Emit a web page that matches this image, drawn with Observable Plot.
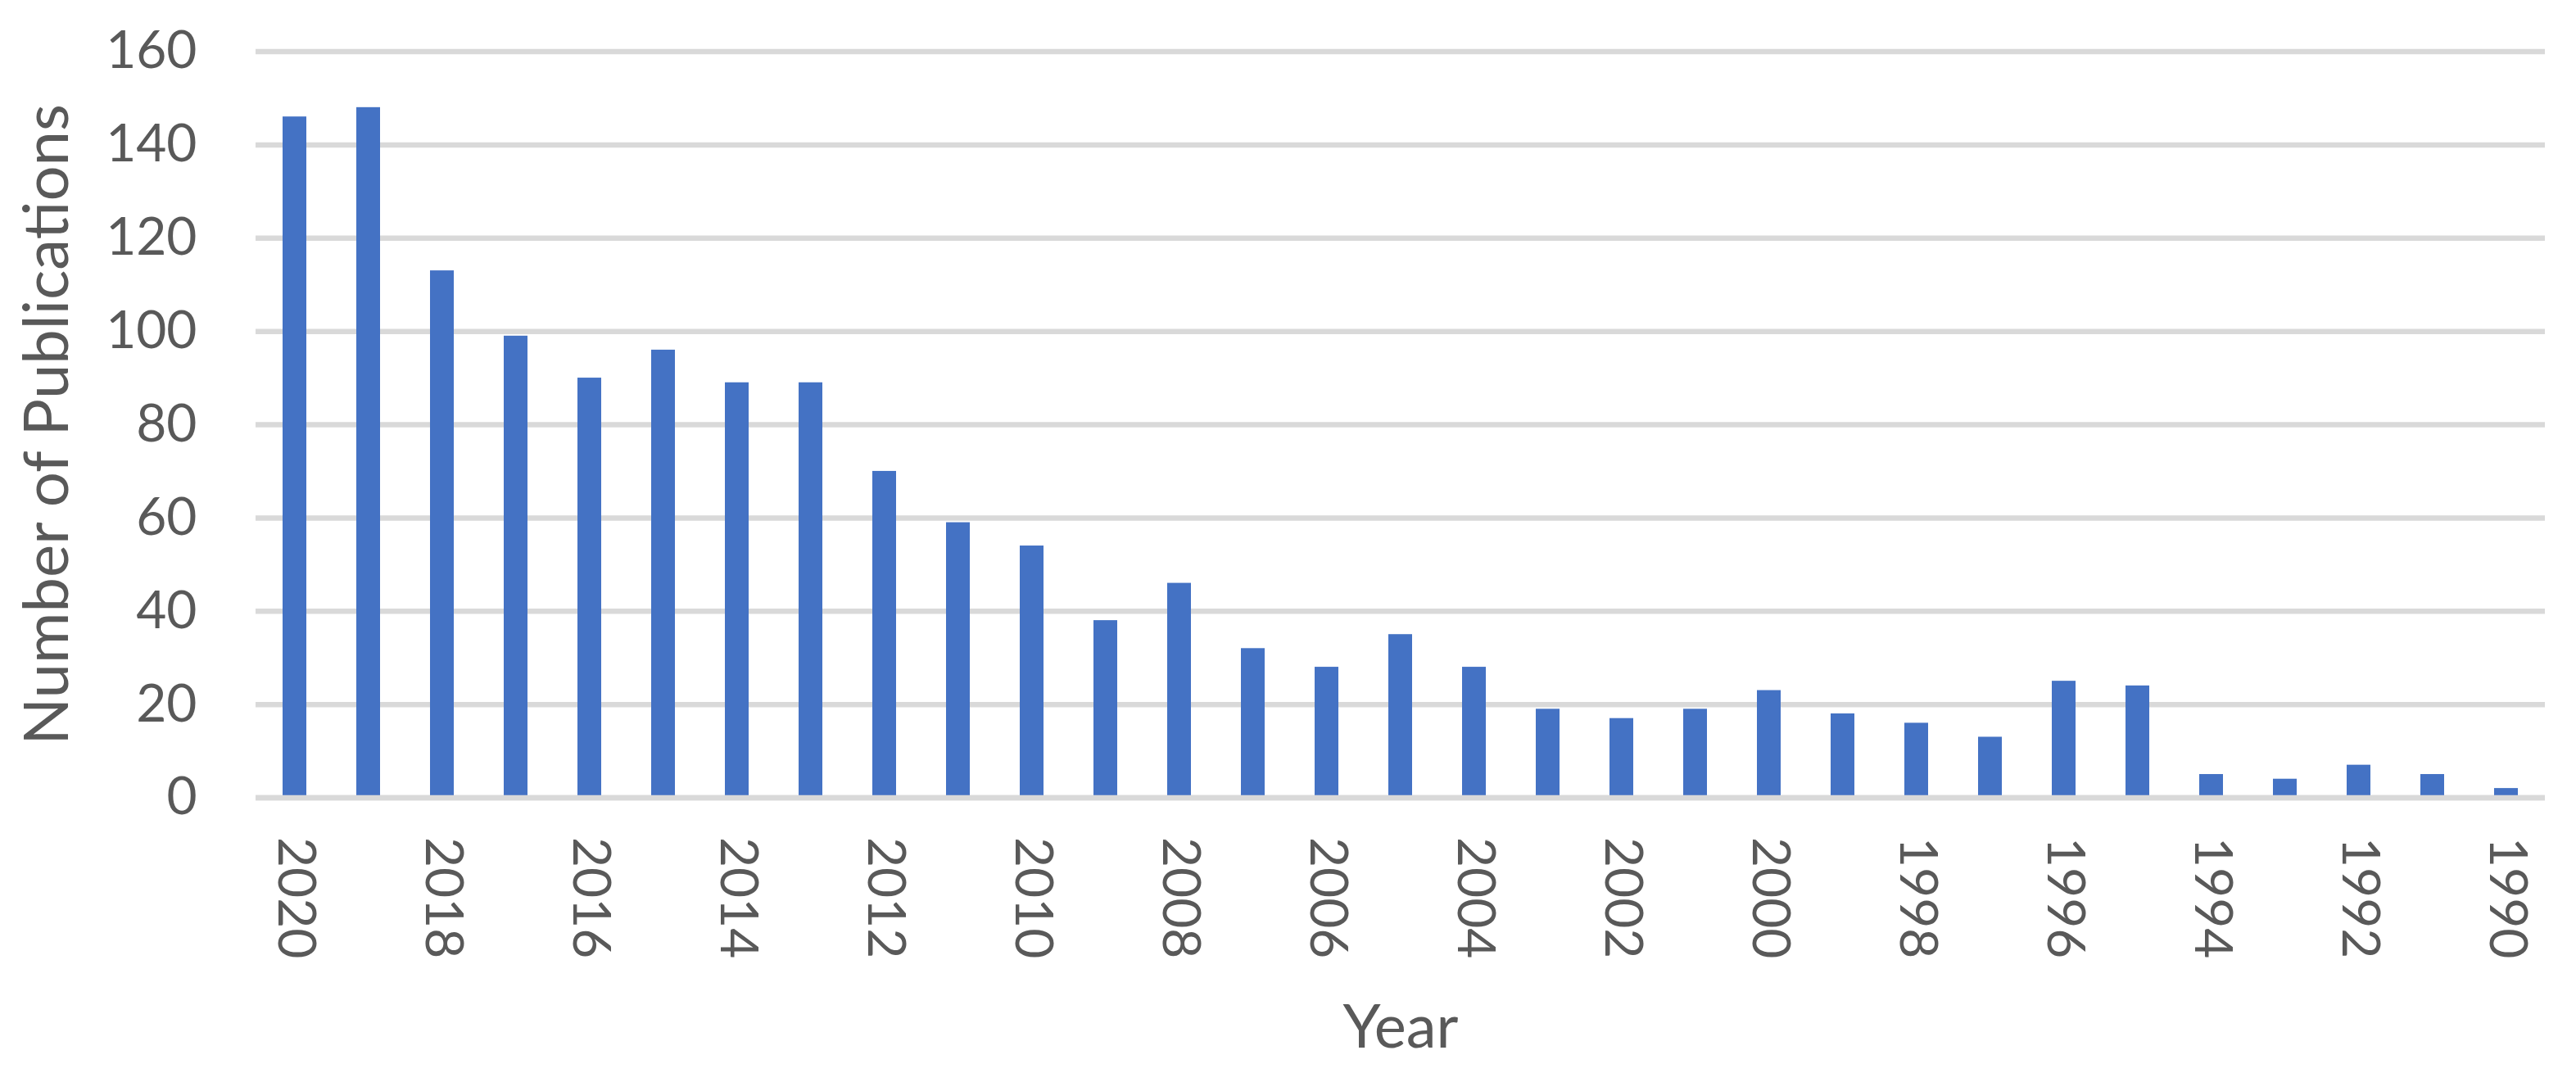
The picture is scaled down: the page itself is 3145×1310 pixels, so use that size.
<!DOCTYPE html>
<html>
<head>
<meta charset="utf-8">
<script src="https://cdn.jsdelivr.net/npm/d3@7"></script>
<script src="https://cdn.jsdelivr.net/npm/@observablehq/plot@0.6"></script>
<style>
  html, body { margin: 0; padding: 0; background: #ffffff; }
  svg { display: block; }
</style>
</head>
<body>
<div id="chart"></div>
<script>
const years = ["2020","2019","2018","2017","2016","2015","2014","2013","2012","2011","2010",
  "2009","2008","2007","2006","2005","2004","2003","2002","2001","2000",
  "1999","1998","1997","1996","1995","1994","1993","1992","1991","1990"];
const counts = [146,148,113,99,90,96,89,89,70,59,54,
  38,46,32,28,35,28,19,17,19,23,
  18,16,13,25,24,5,4,7,5,2];
const labelYears = ["2020","2018","2016","2014","2012","2010","2008","2006","2004","2002","2000",
  "1998","1996","1994","1992","1990"];
const yTicks = [0,20,40,60,80,100,120,140,160];
const xTitle = "Year";
const yTitle = "Number of Publications";

const data = years.map((year, i) => ({year, count: counts[i]}));

const chart = Plot.plot({
  width: 3145,
  height: 1310,
  marginTop: 62.5,
  marginBottom: 336.5,
  marginLeft: 312,
  marginRight: 38,
  style: {fontFamily: "Lato, sans-serif", color: "#595959", background: "#ffffff", overflow: "visible"},
  x: {type: "band", domain: years, paddingInner: 0.68, paddingOuter: 0.34, axis: null},
  y: {domain: [0, 160], axis: null},
  marks: [
    Plot.ruleY(yTicks, {stroke: "#d9d9d9", strokeWidth: 6.5}),
    Plot.barY(data, {x: "year", y: "count", fill: "#4472C4"}),
    Plot.ruleY([0], {stroke: "#d9d9d9", strokeWidth: 6.5}),
    Plot.axisY({ticks: yTicks, tickSize: 0, tickPadding: 72, fontSize: 64, label: null}),
    Plot.axisX({ticks: labelYears, tickSize: 0, tickPadding: 48, tickRotate: 90, fontSize: 64, label: null}),
    Plot.text([yTitle], {text: d => d, frameAnchor: "left", rotate: -90, dx: -230, textAnchor: "middle", lineAnchor: "bottom", fontSize: 76, fill: "#595959"}),
    Plot.text([xTitle], {text: d => d, frameAnchor: "bottom", dy: 304.5, textAnchor: "middle", lineAnchor: "bottom", fontSize: 74, fill: "#595959"})
  ]
});
document.getElementById("chart").appendChild(chart);
</script>
</body>
</html>
